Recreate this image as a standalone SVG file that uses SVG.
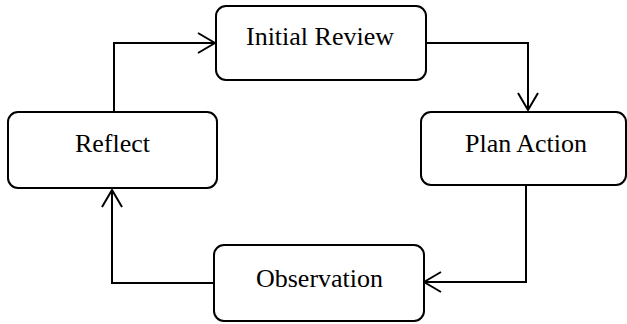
<svg xmlns="http://www.w3.org/2000/svg" width="627" height="324" viewBox="0 0 627 324">
<style>
.box{fill:#fff;stroke:#000;stroke-width:2}
.lbl{font-family:"Liberation Serif","Times New Roman",serif;font-size:26px;fill:#000;text-anchor:middle}
.conn{fill:none;stroke:#000;stroke-width:2}
</style>
<defs>
<marker id="arr" viewBox="0 0 20 24" refX="19" refY="12" markerWidth="20" markerHeight="24" markerUnits="userSpaceOnUse" orient="auto">
<path d="M2,2 L19,12 L2,22" fill="none" stroke="#000" stroke-width="2"/>
</marker>
</defs>
<rect width="627" height="324" fill="#fff"/>
<g id="connectors">
<path class="conn" d="M114,112 V43 H215" marker-end="url(#arr)"/>
<path class="conn" d="M426,43 H528 V110" marker-end="url(#arr)"/>
<path class="conn" d="M526,182 V282 H424" marker-end="url(#arr)"/>
<path class="conn" d="M214,283 H112 V190" marker-end="url(#arr)"/>
</g>
<g id="initial-review">
<rect class="box" x="216" y="6" width="210" height="74" rx="10"/>
<text class="lbl" x="320" y="45">Initial Review</text>
</g>
<g id="reflect">
<rect class="box" x="8" y="112" width="209" height="76" rx="10"/>
<text class="lbl" x="112.5" y="152">Reflect</text>
</g>
<g id="plan-action">
<rect class="box" x="421" y="112" width="205" height="73" rx="10"/>
<text class="lbl" x="526" y="152">Plan Action</text>
</g>
<g id="observation">
<rect class="box" x="214" y="245" width="210" height="76" rx="10"/>
<text class="lbl" x="319.5" y="287">Observation</text>
</g>
</svg>
